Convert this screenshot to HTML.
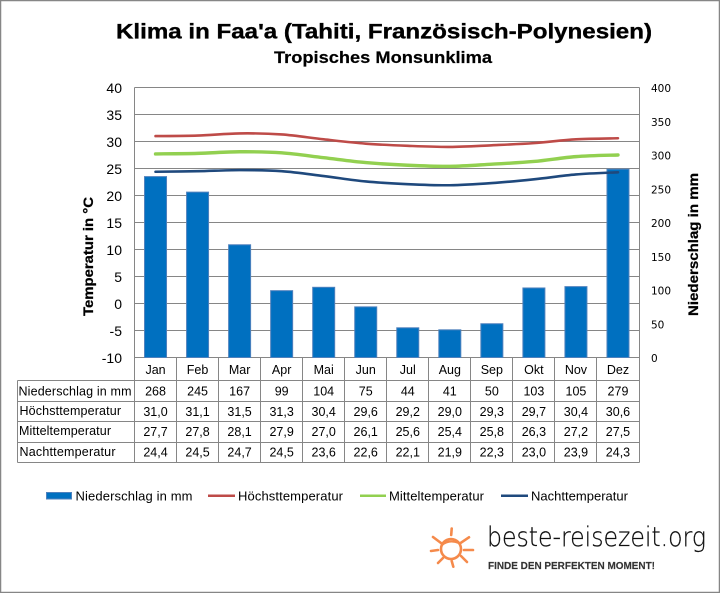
<!DOCTYPE html>
<html lang="de">
<head>
<meta charset="utf-8">
<title>Klima in Faa'a</title>
<style>
html,body{margin:0;padding:0;background:#fff;}
svg{display:block;font-family:"Liberation Sans",Arial,sans-serif;fill:#000;}
</style>
</head>
<body>
<svg id="chart" width="720" height="593" viewBox="0 0 720 593" xmlns="http://www.w3.org/2000/svg">
  <rect x="0.5" y="0.5" width="719" height="592" fill="#fff" stroke="#868686" stroke-width="1.5"/>
  <text x="116" y="38.5" font-size="21" font-weight="bold" stroke="#000" stroke-width="0.35" textLength="536" lengthAdjust="spacingAndGlyphs">Klima in Faa'a (Tahiti, Französisch-Polynesien)</text>
  <text x="274" y="63" font-size="16.5" font-weight="bold" stroke="#000" stroke-width="0.2" textLength="218" lengthAdjust="spacingAndGlyphs">Tropisches Monsunklima</text>
  <text transform="translate(93 316) rotate(-90)" font-size="14" font-weight="bold" stroke="#000" stroke-width="0.25" textLength="119" lengthAdjust="spacingAndGlyphs">Temperatur in °C</text>
  <text transform="translate(698 316) rotate(-90)" font-size="14" font-weight="bold" stroke="#000" stroke-width="0.25" textLength="143" lengthAdjust="spacingAndGlyphs">Niederschlag in mm</text>
  <g id="grid"></g>
  <g id="leftTicks"></g>
  <g id="rightTicks"></g>
  <g id="bars"></g>
  <g id="lines"></g>
  <g id="table"></g>

  <g font-size="13">
    <g>
      <rect x="46.5" y="492.5" width="25" height="6.5" fill="#0070C0" stroke="#4F81BD"/>
      <text x="75.5" y="500.5" textLength="117" lengthAdjust="spacing">Niederschlag in mm</text>
    </g>
    <g>
      <line x1="208" y1="495.7" x2="235" y2="495.7" stroke="#BE4B48" stroke-width="2.5"/>
      <text x="238" y="500.5" textLength="105" lengthAdjust="spacing">Höchsttemperatur</text>
    </g>
    <g>
      <line x1="360" y1="495.7" x2="386" y2="495.7" stroke="#92D050" stroke-width="2.5"/>
      <text x="389" y="500.5" textLength="95" lengthAdjust="spacing">Mitteltemperatur</text>
    </g>
    <g>
      <line x1="501" y1="495.7" x2="528" y2="495.7" stroke="#1F497D" stroke-width="2.5"/>
      <text x="531" y="500.5" textLength="97" lengthAdjust="spacing">Nachttemperatur</text>
    </g>
  </g>

  <g>
    <g fill="none" stroke="#F58A4B" stroke-width="2.6" stroke-linecap="round">
      <circle cx="451" cy="549" r="10"/>
      <path d="M442 545 Q449 539 459 543" stroke-width="2.2"/>
      <line x1="451.7" y1="528.5" x2="451.2" y2="535"/>
      <line x1="433" y1="537" x2="441" y2="543"/>
      <line x1="431" y1="551" x2="438" y2="550"/>
      <line x1="438" y1="563" x2="443" y2="558"/>
      <line x1="451.7" y1="561" x2="453.3" y2="566.7"/>
      <line x1="461" y1="556" x2="467" y2="562"/>
      <line x1="464" y1="550" x2="473" y2="550"/>
      <line x1="461" y1="542.7" x2="469" y2="537.3"/>
    </g>
    <text x="487" y="546" font-family="'DejaVu Sans',sans-serif" font-weight="200" font-size="27" fill="#111" stroke="#111" stroke-width="0.25" textLength="219" lengthAdjust="spacingAndGlyphs">beste-reisezeit.org</text>
    <text x="488" y="569" font-size="10.5" font-weight="bold" fill="#333" stroke="#333" stroke-width="0.15" textLength="167" lengthAdjust="spacingAndGlyphs">FINDE DEN PERFEKTEN MOMENT!</text>
  </g>
</svg>
<script>
const months = ['Jan','Feb','Mar','Apr','Mai','Jun','Jul','Aug','Sep','Okt','Nov','Dez'];
const precipitation = [268,245,167,99,104,75,44,41,50,103,105,279];
const highTemp = [31.0,31.1,31.5,31.3,30.4,29.6,29.2,29.0,29.3,29.7,30.4,30.6];
const meanTemp = [27.7,27.8,28.1,27.9,27.0,26.1,25.6,25.4,25.8,26.3,27.2,27.5];
const nightTemp = [24.4,24.5,24.7,24.5,23.6,22.6,22.1,21.9,22.3,23.0,23.9,24.3];
const tempTicks = [-10,-5,0,5,10,15,20,25,30,35,40];
const precipTicks = [0,50,100,150,200,250,300,350,400];

const NS = 'http://www.w3.org/2000/svg';
const plotL = 134.5, plotR = 639, plotT = 87.5, plotB = 357.5;
const GRID = '#868686';
const catW = (plotR - plotL) / months.length;
const xCenter = i => plotL + catW * (i + 0.5);
const xEdge = i => Math.floor(plotL + catW * i) + 0.5;
const yTemp = v => plotB - (v - tempTicks[0]) / (tempTicks[tempTicks.length-1] - tempTicks[0]) * (plotB - plotT);
const yPrecip = v => plotB - v / precipTicks[precipTicks.length-1] * (plotB - plotT);
const fmt = v => v.toFixed(1).replace('.', ',');

function make(tag, parent, props, text) {
  const el = document.createElementNS(NS, tag);
  for (const k in props) el.setAttribute(k, props[k]);
  if (text !== undefined) el.textContent = text;
  parent.appendChild(el);
  return el;
}

const grid = document.getElementById('grid');
tempTicks.forEach(t => {
  const ln = make('line', grid, {x1: plotL, x2: xEdge(months.length), y1: yTemp(t), y2: yTemp(t), stroke: GRID, 'stroke-width': 1});
  
  
});
[plotL, xEdge(months.length)].forEach(x => {
  const ln = make('line', grid, {x1: x, x2: x, y1: plotT, y2: plotB, stroke: GRID, 'stroke-width': 1});
  
  
});

const leftTicks = document.getElementById('leftTicks');
tempTicks.forEach(t => {
  const el = make('text', leftTicks, {x: 122, y: yTemp(t) + 5.5, 'text-anchor': 'end', 'font-size': 14}, String(t));
  
  
});

const rightTicks = document.getElementById('rightTicks');
precipTicks.forEach(t => {
  const el = make('text', rightTicks, {x: 651, y: yPrecip(t) + 4.5, 'font-size': 10.5, 'font-family': "'DejaVu Sans',sans-serif"}, String(t));
  
  
});

const bars = document.getElementById('bars');
precipitation.forEach((v, i) => {
  const y = yPrecip(v);
  const r = make('rect', bars, {x: xCenter(i) - 11, y: y, width: 22, height: plotB - y, fill: '#0070C0', stroke: '#4F81BD', 'stroke-width': 1});
  
  
});

function smoothPath(values) {
  const p = values.map((v, i) => [xCenter(i), yTemp(v)]);
  let d = 'M' + p[0][0] + ' ' + p[0][1];
  for (let i = 0; i < p.length - 1; i++) {
    const a = p[Math.max(i - 1, 0)], b = p[i], c = p[i + 1], e = p[Math.min(i + 2, p.length - 1)];
    d += ' C' + (b[0] + (c[0] - a[0]) / 6) + ' ' + (b[1] + (c[1] - a[1]) / 6) + ' ' +
         (c[0] - (e[0] - b[0]) / 6) + ' ' + (c[1] - (e[1] - b[1]) / 6) + ' ' + c[0] + ' ' + c[1];
  }
  return d;
}
const linesGroup = document.getElementById('lines');
const highLine = make('path', linesGroup, {d: smoothPath(highTemp), fill: 'none', stroke: '#BE4B48', 'stroke-width': 2.6, 'stroke-linecap': 'round'});


const meanLine = make('path', linesGroup, {d: smoothPath(meanTemp), fill: 'none', stroke: '#92D050', 'stroke-width': 3.4, 'stroke-linecap': 'round'});


const nightLine = make('path', linesGroup, {d: smoothPath(nightTemp), fill: 'none', stroke: '#1F497D', 'stroke-width': 2.6, 'stroke-linecap': 'round'});



const table = document.getElementById('table');
const tableL = 17.5, tableB = 462.5;
const rowLines = [380.5, 401.5, 421.5, 442.5, 462.5];
rowLines.forEach(y => {
  const ln = make('line', table, {x1: tableL, x2: xEdge(months.length), y1: y, y2: y, stroke: GRID, 'stroke-width': 1});
  
  
});
const tableLeftEdge = make('line', table, {x1: tableL, x2: tableL, y1: rowLines[0], y2: tableB, stroke: GRID, 'stroke-width': 1});


for (let i = 0; i <= months.length; i++) {
  const ln = make('line', table, {x1: xEdge(i), x2: xEdge(i), y1: plotB, y2: tableB, stroke: GRID, 'stroke-width': 1});
  
  
}
months.forEach((m, i) => {
  const el = make('text', table, {x: xCenter(i), y: 374, 'text-anchor': 'middle', 'font-size': 12.5}, m);
  
  
});

const rowLabels = ['Niederschlag in mm', 'Höchsttemperatur', 'Mitteltemperatur', 'Nachttemperatur'];
const rowLabelX = [18.5, 19.5, 19, 19.5];
const rowLabelY = [395.5, 415, 435, 456];
const rowLabelW = [113, 101.5, 92, 96];
const rowValueY = [395.5, 416, 436, 456.5];
const rows = [precipitation.map(String), highTemp.map(fmt), meanTemp.map(fmt), nightTemp.map(fmt)];
rowLabels.forEach((label, r) => {
  const el = make('text', table, {x: rowLabelX[r], y: rowLabelY[r], 'font-size': 12.5, textLength: rowLabelW[r], lengthAdjust: 'spacing'}, label);
  
  
  rows[r].forEach((val, i) => {
    const c = make('text', table, {x: xCenter(i), y: rowValueY[r], 'text-anchor': 'middle', 'font-size': 12.5}, val);
    
    
  });
});
</script>
</body>
</html>
